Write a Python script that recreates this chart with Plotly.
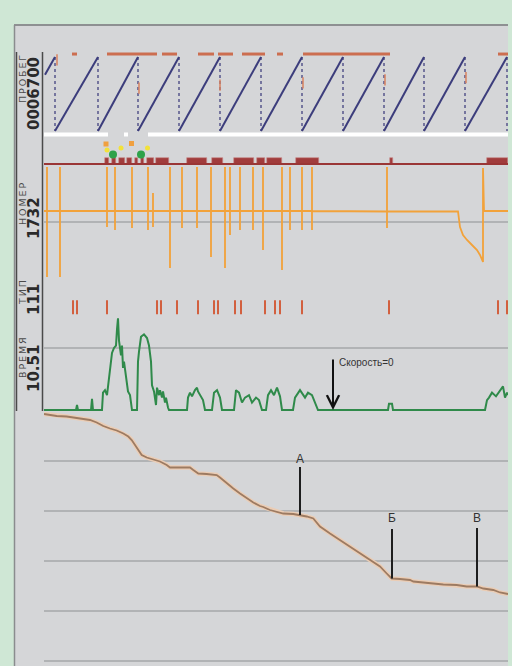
import numpy as np
import plotly.graph_objects as go

# ---------------- data ----------------
T_RANGE = [0, 464]                      # record position along the chart

# ПРОБЕГ: odometer counter, 0..100 per cycle (sawtooth)
odo_start_t, odo_start_v = 1, 76
odo_peaks_t = [11, 54, 94, 135, 176, 217, 258, 299, 340, 380, 421, 463]
odo_bar_segments = [[28, 33], [63, 113], [118, 133], [154, 170], [174, 189],
                    [198, 221], [233, 239], [259, 346], [454, 464]]
odo_bar_level = 104
odo_marks_t = [13, 95, 176, 259, 341, 422]
odo_marks_v = [96, 58, 62, 65, 69, 72]
odo_white_segments = [[0, 64], [80, 84], [104, 464]]
odo_white_level = -4.7

# event track
event_line_level = 2
event_blocks = [[61, 65], [68, 72], [75, 81], [83, 88], [91, 94], [97, 100],
                [103, 110], [112, 125], [143, 163], [168, 179], [190, 210],
                [213, 221], [223, 238], [252, 275], [346, 349], [443, 464]]
event_block_height = 6
icon_orange_t, icon_orange_v = [62, 87.5], [22, 22.5]
icon_yellow_t, icon_yellow_v = [63, 77, 103.5], [16, 18, 18]
icon_green_t, icon_green_v = [69, 97], [11.5, 11.5]

# НОМЕР: signal with spikes
num_base_steps_t = [0, 276, 341]
num_base_steps_v = [11, 10, 10.5]
num_spike_t = [3, 16, 63, 71, 88, 104, 109, 126, 138, 153, 167, 181, 186,
               196, 209, 219, 238, 246, 258, 268, 343]
num_spike_top = [55, 55, 55, 55, 55, 55, 29, 55, 55, 55, 55, 55, 55,
                 55, 55, 55, 55, 55, 55, 55, 55]
num_spike_bottom = [-55, -55, -5, -8, -6, -8, -5, -46, -6, -6, -35, -46, -13,
                    -8, -8, -28, -48, -8, -8, -8, -6]
num_tail_t = [414, 416, 419, 423, 428, 433, 436, 438, 439, 439, 440, 464]
num_tail_v = [10.5, -5, -13, -18, -23, -28, -33, -38, -40, 54, 11, 11]

# ТИП: event ticks
type_ticks_t = [29, 33, 63, 113, 117, 133, 154, 170, 174, 191, 197, 221,
                231, 236, 258, 345, 454, 463]
type_tick_level = 8

# ВРЕМЯ: speed, km/h
speed_t = [0, 32, 33, 34, 47, 48, 49, 58, 59, 61, 63, 65, 67, 68, 70, 72, 73,
           74, 75, 77, 78, 79, 80, 82, 83, 84, 86, 87, 88, 93, 94, 95, 96, 97,
           100, 103, 105, 107, 108, 110, 112, 113, 115, 116, 118, 119, 121,
           122, 124, 125, 143, 144, 146, 148, 151, 153, 154, 156, 159, 161,
           168, 170, 173, 176, 178, 190, 192, 195, 198, 201, 205, 208, 212,
           215, 218, 222, 224, 227, 230, 233, 236, 238, 249, 251, 256, 261,
           264, 268, 272, 274, 344, 345, 348, 349, 441, 443, 445, 448, 452,
           456, 459, 461, 463, 464]
speed_v = [0, 0, 4, 0, 0, 9, 0, 0, 14, 16, 12, 26, 42, 46, 50, 52, 65,
           74, 56, 44, 52, 34, 39, 26, 20, 15, 12, 4, 0, 0, 39, 47, 52, 59,
           61, 58, 52, 39, 20, 15, 4, 18, 12, 16, 10, 15, 6,
           10, 2, 0, 0, 10, 14, 11, 16, 18, 15, 12, 8, 0,
           0, 14, 16, 10, 0, 0, 16, 14, 6, 10, 12, 6, 10,
           8, 0, 0, 12, 16, 12, 18, 11, 0, 0, 10, 16, 10,
           14, 12, 4, 0, 0, 5, 5, 0, 0, 8, 10, 14, 11,
           16, 19, 10, 14, 12]
speed_zero_t, speed_zero_top = 289, 42
speed_label = "Скорость=0"

# profile (lower panel)
prof_t = [0, 12.7, 22.7, 36, 46, 52.7, 59.3, 66, 72.7, 79.3, 84.3, 87.7, 91,
          94.3, 97.7, 102.7, 109.3, 116, 122.7, 126, 136, 146, 149.3, 154.3,
          162.7, 172.7, 176, 182.7, 189.3, 196, 202.7, 209.3, 216, 219.3, 226,
          232.7, 239.3, 249.3, 256, 262.7, 269.3, 276, 286, 296, 306, 316,
          326, 336, 342.7, 347.7, 356, 366, 369.3, 379.3, 392.7, 399.3, 412.7,
          422.7, 432.7, 439.3, 449.3, 456, 464]
prof_v = [49.4, 49.0, 48.9, 48.5, 48.2, 47.7, 47.0, 46.5, 46.1, 45.5, 44.9,
          44.2, 43.2, 42.2, 41.2, 40.7, 40.3, 39.9, 39.2, 38.7, 38.7, 38.7,
          38.2, 37.5, 37.4, 37.2, 36.7, 35.5, 34.5, 33.5, 32.5, 31.7, 31.0,
          30.8, 30.2, 29.9, 29.5, 29.4, 29.2, 28.9, 28.5, 26.9, 25.5, 24.2,
          22.9, 21.5, 20.2, 18.9, 17.5, 16.5, 16.4, 16.2, 15.9, 15.7, 15.5,
          15.3, 15.2, 14.9, 14.9, 14.5, 14.2, 13.7, 13.4]
point_labels = ["А", "Б", "В"]
point_t = [256, 348, 433]
point_top = [38.8, 26.4, 26.6]
point_text_level = [40.4, 28.6, 28.6]

# panel labels
label_names = ["ПРОБЕГ", "НОМЕР", "ТИП", "ВРЕМЯ"]
label_values = ["0006700", "1732", "111", "10.51"]

# ---------------- figure ----------------
W, H = 512, 666
BG = "#cfe7d5"
def py(p):  # pixel row -> paper y
    return 1 - p / H
def px(p):
    return p / W

fig = go.Figure()

# sawtooth
sx, sy = [odo_start_t, odo_peaks_t[0]], [odo_start_v, 100]
for a, b in zip(odo_peaks_t[:-1], odo_peaks_t[1:]):
    sx += [None, a, b]
    sy += [None, 0, 100]
dx, dy = [], []
for p in odo_peaks_t:
    dx += [p, p, None]
    dy += [100, 0, None]
wx, wy = [], []
for a, b in odo_white_segments:
    wx += [a, b, None]
    wy += [odo_white_level, odo_white_level, None]
bx, by = [], []
for a, b in odo_bar_segments:
    bx += [a, b, None]
    by += [odo_bar_level, odo_bar_level, None]

fig.add_trace(go.Scatter(x=wx, y=wy, mode="lines", line=dict(color="#ffffff", width=4), yaxis="y"))
fig.add_trace(go.Scatter(x=dx, y=dy, mode="lines", line=dict(color="#55568a", width=1.5, dash="dot"), yaxis="y"))
fig.add_trace(go.Scatter(x=sx, y=sy, mode="lines", line=dict(color="#3c3d7c", width=2), yaxis="y"))
fig.add_trace(go.Scatter(x=bx, y=by, mode="lines", line=dict(color="#cc6e50", width=3), yaxis="y"))
fig.add_trace(go.Scatter(x=odo_marks_t, y=odo_marks_v, mode="markers", yaxis="y",
                         marker=dict(symbol="line-ns", size=8, line=dict(color="#d9825f", width=1.5))))

# event track
fig.add_trace(go.Scatter(x=T_RANGE, y=[event_line_level] * 2, mode="lines",
                         line=dict(color="#9a3636", width=2), yaxis="y2"))
fig.add_trace(go.Bar(x=[(a + b) / 2 for a, b in event_blocks],
                     y=[event_block_height] * len(event_blocks),
                     width=[b - a for a, b in event_blocks],
                     base=event_line_level, yaxis="y2",
                     marker=dict(color="#a13c3c", line=dict(color="#c98a8a", width=0.6))))
fig.add_trace(go.Scatter(x=icon_orange_t, y=icon_orange_v, mode="markers", yaxis="y2",
                         marker=dict(symbol="square", size=5, color="#f0a040")))
fig.add_trace(go.Scatter(x=icon_yellow_t, y=icon_yellow_v, mode="markers", yaxis="y2",
                         marker=dict(symbol="circle", size=5, color="#f2e23a")))
fig.add_trace(go.Scatter(x=icon_green_t, y=icon_green_v, mode="markers", yaxis="y2",
                         marker=dict(symbol="circle", size=8, color="#2ea24a")))

# НОМЕР
def base_at(t):
    v = num_base_steps_v[0]
    for st, sv in zip(num_base_steps_t, num_base_steps_v):
        if t >= st:
            v = sv
    return v
nx, ny = [0], [base_at(0)]
for t, top, bot in zip(num_spike_t, num_spike_top, num_spike_bottom):
    b = base_at(t)
    nx += [t, t, t, t]
    ny += [b, top, bot, b]
nx += num_tail_t
ny += num_tail_v
fig.add_trace(go.Scatter(x=nx, y=ny, mode="lines", line=dict(color="#f2a23a", width=1.8), yaxis="y3"))

# ТИП
fig.add_trace(go.Scatter(x=type_ticks_t, y=[type_tick_level] * len(type_ticks_t), mode="markers", yaxis="y4",
                         marker=dict(symbol="line-ns", size=10, line=dict(color="#d2603f", width=2))))

# ВРЕМЯ
fig.add_trace(go.Scatter(x=speed_t, y=speed_v, mode="lines", line=dict(color="#2f8a4a", width=2), yaxis="y5"))

# profile
fig.add_trace(go.Scatter(x=prof_t, y=prof_v, mode="lines", line=dict(color="#ebcdb5", width=4.5), yaxis="y6"))
fig.add_trace(go.Scatter(x=prof_t, y=prof_v, mode="lines", line=dict(color="#9d7b62", width=1.8), yaxis="y6"))

point_bottom = np.interp(point_t, prof_t, prof_v)

shapes = [
    dict(type="rect", xref="paper", yref="paper", x0=px(14), x1=px(508), y0=0, y1=py(24),
         fillcolor="#d5d6d8", line=dict(width=0), layer="below"),
    dict(type="line", xref="paper", yref="paper", x0=px(14), x1=px(508), y0=py(25), y1=py(25),
         line=dict(color="#8e9092", width=2), layer="below"),
    dict(type="line", xref="paper", yref="paper", x0=px(14.5), x1=px(14.5), y0=0, y1=py(25),
         line=dict(color="#8a8c8e", width=1.5), layer="below"),
    dict(type="line", xref="paper", yref="paper", x0=px(16.5), x1=px(16.5), y0=py(411), y1=py(52),
         line=dict(color="#4a4a4a", width=1.5)),
    dict(type="line", xref="paper", yref="paper", x0=px(42.5), x1=px(42.5), y0=py(411), y1=py(52),
         line=dict(color="#4a4a4a", width=1.5)),
]
for t, b, tp in zip(point_t, point_bottom, point_top):
    shapes.append(dict(type="line", xref="x", yref="y6", x0=t, x1=t, y0=b, y1=tp,
                       line=dict(color="#1e1e1e", width=2)))

annotations = []
for t, lv, lab in zip(point_t, point_text_level, point_labels):
    annotations.append(dict(x=t, y=lv, xref="x", yref="y6", text=lab, showarrow=False,
                            font=dict(family="Liberation Sans", size=12, color="#333333")))
annotations.append(dict(x=speed_zero_t, y=0, xref="x", yref="y5", ax=speed_zero_t, ay=speed_zero_top,
                        axref="x", ayref="y5", text="", showarrow=True, arrowhead=5,
                        arrowsize=1.2, arrowwidth=2, arrowcolor="#111111"))
annotations.append(dict(x=speed_zero_t + 4, y=speed_zero_top - 4, xref="x", yref="y5", text=speed_label,
                        showarrow=False, xanchor="left",
                        font=dict(family="Liberation Sans", size=10, color="#333333")))

name_pos = [79, 204, 293, 358]
val_pos = [94, 218, 300, 369]
for nm, vl, yn, yv in zip(label_names, label_values, name_pos, val_pos):
    annotations.append(dict(x=px(22), y=py(yn), xref="paper", yref="paper", text="\u2009".join(nm),
                            textangle=-90, xanchor="center", yanchor="middle", showarrow=False,
                            font=dict(family="DejaVu Sans", size=9.5, color="#4a4a4a")))
    annotations.append(dict(x=px(34), y=py(yv), xref="paper", yref="paper", text="<b>" + vl + "</b>",
                            textangle=-90, xanchor="center", yanchor="middle", showarrow=False,
                            font=dict(family="DejaVu Sans", size=15, color="#2a2a2a")))

hidden = dict(showgrid=False, zeroline=False, showticklabels=False, ticks="", showline=False)
grid = dict(showgrid=True, gridcolor="#b1b3b5", gridwidth=1.5, zeroline=False,
            showticklabels=False, ticks="", showline=False)

fig.update_layout(
    width=W, height=H, margin=dict(l=0, r=0, t=0, b=0),
    paper_bgcolor=BG, plot_bgcolor="rgba(0,0,0,0)",
    showlegend=False, bargap=0,
    xaxis=dict(domain=[px(44), px(508)], range=T_RANGE, **hidden),
    yaxis=dict(domain=[py(140), py(50)], range=[-12.16, 109.46], **hidden),
    yaxis2=dict(domain=[py(166), py(140)], range=[0, 26], **hidden),
    yaxis3=dict(domain=[py(285), py(166)], range=[-63, 56], tickvals=[0], **grid),
    yaxis4=dict(domain=[py(315), py(285)], range=[0, 30.5], tickvals=[30], **grid),
    yaxis5=dict(domain=[py(411), py(315)], range=[-0.8, 76.6], tickvals=[50], **grid),
    yaxis6=dict(domain=[0, py(411)], range=[-1, 50], tickvals=[0, 10, 20, 30, 40], **grid),
    shapes=shapes, annotations=annotations,
)

fig.write_html("out.html", config={"displayModeBar": False},
               post_script="document.body.style.margin='0';document.body.style.overflow='hidden';"
                           "document.body.style.background='" + BG + "';")
